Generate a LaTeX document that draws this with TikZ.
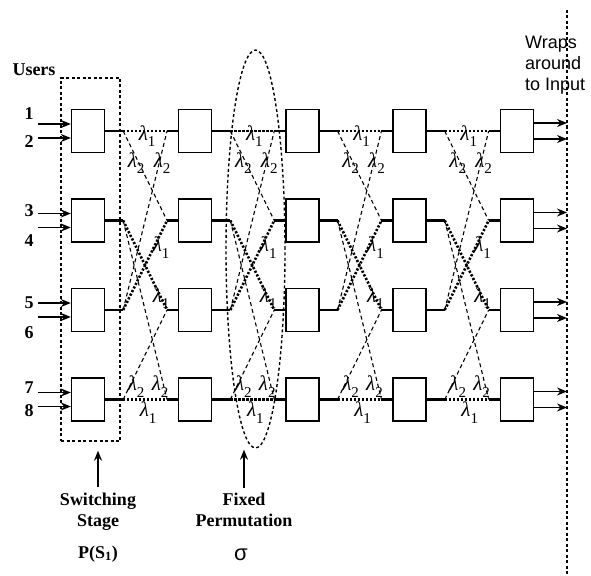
\documentclass[tikz,border=0pt]{standalone}
\usepackage{fontspec}
\setmainfont{Liberation Serif}
\setsansfont{Liberation Sans}
\usepackage{amsmath}
\usepackage{tikz}
\usetikzlibrary{arrows.meta,shapes.geometric}
\newcommand{\lam}[1]{\textit{λ}\raisebox{-0.3em}{\fontsize{15}{15}\selectfont #1}}

\begin{document}
\begin{tikzpicture}[
        x=1pt, y=-1pt,
        font=\fontsize{18}{21}\selectfont,
        box/.style={rectangle, draw, line width=1.3pt, minimum width=33pt, minimum height=43pt, inner sep=0pt},
        stub/.style={line width=2.6pt},
        wave1/.style={line width=2.6pt, dash pattern=on 2.2pt off 1.8pt},
        wave2/.style={line width=1.1pt, dash pattern=on 4pt off 3pt},
        frame/.style={line width=1.4pt, dash pattern=on 3pt off 2.5pt},
        arrow/.style={-{Stealth[length=10pt,width=8pt]}, line width=1.5pt},
        lab/.style={inner sep=0pt, font=\fontsize{21}{24}\selectfont},
        tag/.style={inner sep=0pt, font=\fontsize{18}{21}\selectfont\bfseries, align=center}
    ]
        \useasboundingbox (0,0) rectangle (591,575);

        % switching elements, column c and row r
        \foreach \c in {1,...,5}
            \foreach \r in {1,...,4} {
                \node[box] (b\c\r) at ({88+107.2*(\c-1)}, {131+89.5*(\r-1)}) {};
                \coordinate (o\c\r) at ([xshift=18pt]b\c\r.east);
                \coordinate (i\c\r) at ([xshift=-11pt]b\c\r.west);
            }

        % links between stages
        \foreach \c [evaluate=\c as \n using {int(\c+1)}] in {1,...,4} {
            \draw[wave1] (o\c1) -- (i\n1);
            \draw[wave1] (o\c4) -- (i\n4);
            \draw[wave1] (o\c2) -- (i\n3);
            \draw[wave1] (o\c3) -- (i\n2);
            \draw[wave2] (o\c1) -- (i\n2);
            \draw[wave2] (o\c2) -- (i\n4);
            \draw[wave2] (o\c3) -- (i\n1);
            \draw[wave2] (o\c4) -- (i\n3);
            \node[lab] (la\c) at ([xshift=24pt,yshift=-5pt]o\c1) {\lam{1}};
            \node[lab] (lb\c) at ([xshift=13pt,yshift=-32pt]o\c1) {\lam{2}};
            \node[lab] (lc\c) at ([xshift=-5pt,yshift=-32pt]i\n1) {\lam{2}};
            \node[lab] (ld\c) at ([xshift=-6pt,yshift=-27pt]i\n2) {\lam{1}};
            \node[lab] (le\c) at ([xshift=-6pt,yshift=12pt]i\n3) {\lam{1}};
            \node[lab] (lf\c) at ([xshift=13pt,yshift=13pt]o\c4) {\lam{2}};
            \node[lab] (lg\c) at ([xshift=-7pt,yshift=13pt]i\n4) {\lam{2}};
            \node[lab] (lh\c) at ([xshift=25pt,yshift=-13pt]o\c4) {\lam{1}};
        }
        \foreach \c in {1,...,4}
            \foreach \r in {1,...,4}
                \draw[stub] (b\c\r.east) -- (o\c\r);
        \foreach \c in {2,...,5}
            \foreach \r in {1,...,4}
                \draw[stub] (i\c\r) -- (b\c\r.west);

        % users on the left
        \node[tag] (users) at (34,70) {Users};
        \foreach \r/\ua/\ub/\ya/\yb in {1/1/2/114/142, 2/3/4/211/241, 3/5/6/303/333, 4/7/8/388/411} {
            \node[tag] (n\ua) at (29,\ya) {\ua};
            \node[tag] (n\ub) at (29,\yb) {\ub};
            \coordinate (ua\r) at ([xshift=-33pt,yshift=7pt]b1\r.west);
            \coordinate (ub\r) at ([xshift=-33pt,yshift=-7pt]b1\r.west);
            \draw[arrow] (ua\r) -- (ua\r -| b1\r.west);
            \draw[arrow] (ub\r) -- (ub\r -| b1\r.west);
        }

        % wrap around on the right
        \coordinate (wtop) at (567,10);
        \coordinate (wbot) at (567,575);
        \draw[frame, line width=1.2pt] (wtop) -- (wbot);
        \node[inner sep=0pt, anchor=north west, align=left, font=\sffamily\fontsize{18}{21}\selectfont] (wrap) at (525,36) {Wraps\\around\\to Input};
        \foreach \r in {1,...,4} {
            \coordinate (va\r) at ([yshift=8pt]b5\r.east);
            \coordinate (vb\r) at ([yshift=-8pt]b5\r.east);
            \draw[arrow] (va\r) -- (va\r -| wtop);
            \draw[arrow] (vb\r) -- (vb\r -| wtop);
        }

        % stage and permutation marks
        \node[draw, frame, minimum width=59pt, minimum height=363pt, inner sep=0pt] (stage) at (90.5,259.5) {};
        \node[draw, frame, ellipse, minimum width=59pt, minimum height=398pt, inner sep=0pt] (perm) at (255.5,249) {};

        \node[tag, anchor=north] (swlab) at (98,493) {Switching\\Stage};
        \node[tag, anchor=base] (pslab) at (98,558) {P(S$_{\mathbf{1}}$)};
        \node[tag, anchor=north] (fixlab) at (244,493) {Fixed\\Permutation};
        \node[inner sep=0pt, anchor=base, font=\sffamily\fontsize{22}{24}\selectfont] (sigma) at (241,560) {σ};

        \draw[arrow, shorten <=6pt, shorten >=9pt] (swlab.north) -- (swlab.north |- stage.south);
        \draw[arrow, shorten <=5pt, shorten >=1pt] (fixlab.north) -- (fixlab.north |- perm.south);
    \end{tikzpicture}
\end{document}
